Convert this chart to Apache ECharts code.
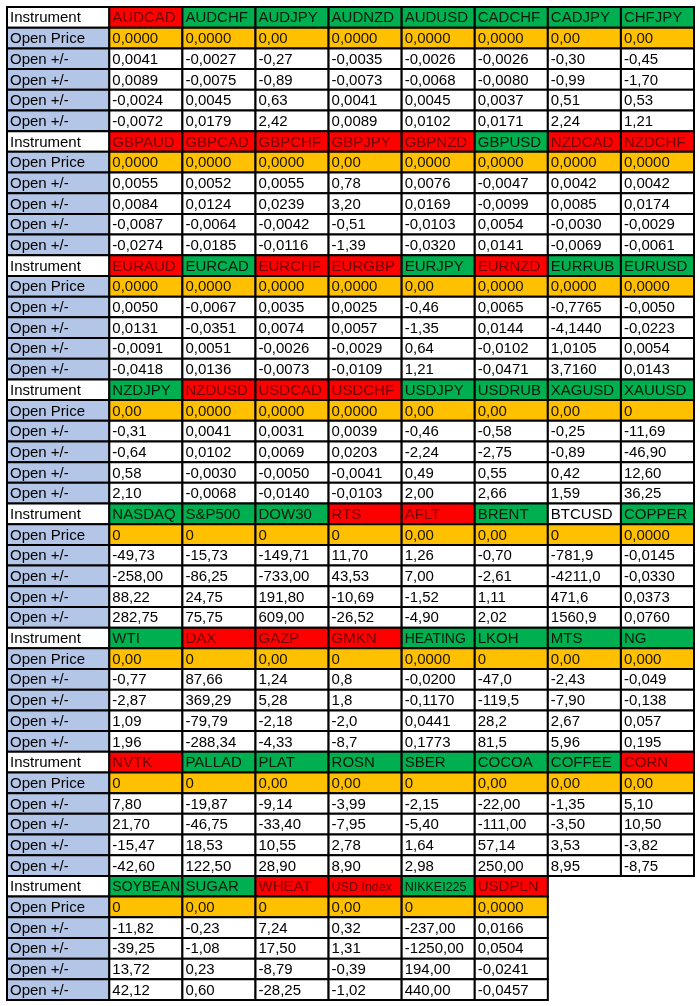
<!DOCTYPE html>
<html><head><meta charset="utf-8">
<script src="https://cdn.jsdelivr.net/npm/echarts@6/dist/echarts.min.js"></script>
<style>html,body{margin:0;padding:0;background:#fff}#c{width:700px;height:1006px}</style>
</head><body><div id="c"></div>
<script>
const rowLabels = ["Instrument","Open Price","Open +/-","Open +/-","Open +/-","Open +/-"];
const b1Names = ["AUDCAD","AUDCHF","AUDJPY","AUDNZD","AUDUSD","CADCHF","CADJPY","CHFJPY"];
const b1Colors = "RGGGGGGG";
const b1Open = ["0,0000","0,0000","0,00","0,0000","0,0000","0,0000","0,00","0,00"];
const b1Vals = [["0,0041","-0,0027","-0,27","-0,0035","-0,0026","-0,0026","-0,30","-0,45"],
 ["0,0089","-0,0075","-0,89","-0,0073","-0,0068","-0,0080","-0,99","-1,70"],
 ["-0,0024","0,0045","0,63","0,0041","0,0045","0,0037","0,51","0,53"],
 ["-0,0072","0,0179","2,42","0,0089","0,0102","0,0171","2,24","1,21"]];
const b2Names = ["GBPAUD","GBPCAD","GBPCHF","GBPJPY","GBPNZD","GBPUSD","NZDCAD","NZDCHF"];
const b2Colors = "RRRRRGRR";
const b2Open = ["0,0000","0,0000","0,0000","0,00","0,0000","0,0000","0,0000","0,0000"];
const b2Vals = [["0,0055","0,0052","0,0055","0,78","0,0076","-0,0047","0,0042","0,0042"],
 ["0,0084","0,0124","0,0239","3,20","0,0169","-0,0099","0,0085","0,0174"],
 ["-0,0087","-0,0064","-0,0042","-0,51","-0,0103","0,0054","-0,0030","-0,0029"],
 ["-0,0274","-0,0185","-0,0116","-1,39","-0,0320","0,0141","-0,0069","-0,0061"]];
const b3Names = ["EURAUD","EURCAD","EURCHF","EURGBP","EURJPY","EURNZD","EURRUB","EURUSD"];
const b3Colors = "RGRRGRGG";
const b3Open = ["0,0000","0,0000","0,0000","0,0000","0,00","0,0000","0,0000","0,0000"];
const b3Vals = [["0,0050","-0,0067","0,0035","0,0025","-0,46","0,0065","-0,7765","-0,0050"],
 ["0,0131","-0,0351","0,0074","0,0057","-1,35","0,0144","-4,1440","-0,0223"],
 ["-0,0091","0,0051","-0,0026","-0,0029","0,64","-0,0102","1,0105","0,0054"],
 ["-0,0418","0,0136","-0,0073","-0,0109","1,21","-0,0471","3,7160","0,0143"]];
const b4Names = ["NZDJPY","NZDUSD","USDCAD","USDCHF","USDJPY","USDRUB","XAGUSD","XAUUSD"];
const b4Colors = "GRRRGGGG";
const b4Open = ["0,00","0,0000","0,0000","0,0000","0,00","0,00","0,00","0"];
const b4Vals = [["-0,31","0,0041","0,0031","0,0039","-0,46","-0,58","-0,25","-11,69"],
 ["-0,64","0,0102","0,0069","0,0203","-2,24","-2,75","-0,89","-46,90"],
 ["0,58","-0,0030","-0,0050","-0,0041","0,49","0,55","0,42","12,60"],
 ["2,10","-0,0068","-0,0140","-0,0103","2,00","2,66","1,59","36,25"]];
const b5Names = ["NASDAQ","S&P500","DOW30","RTS","AFLT","BRENT","BTCUSD","COPPER"];
const b5Colors = "GGGRRGWG";
const b5Open = ["0","0","0","0","0,00","0,00","0","0,0000"];
const b5Vals = [["-49,73","-15,73","-149,71","11,70","1,26","-0,70","-781,9","-0,0145"],
 ["-258,00","-86,25","-733,00","43,53","7,00","-2,61","-4211,0","-0,0330"],
 ["88,22","24,75","191,80","-10,69","-1,52","1,11","471,6","0,0373"],
 ["282,75","75,75","609,00","-26,52","-4,90","2,02","1560,9","0,0760"]];
const b6Names = ["WTI","DAX","GAZP","GMKN","HEATING","LKOH","MTS","NG"];
const b6Colors = "GRRRGGGG";
const b6Open = ["0,00","0","0,00","0","0,0000","0","0,00","0,000"];
const b6Vals = [["-0,77","87,66","1,24","0,8","-0,0200","-47,0","-2,43","-0,049"],
 ["-2,87","369,29","5,28","1,8","-0,1170","-119,5","-7,90","-0,138"],
 ["1,09","-79,79","-2,18","-2,0","0,0441","28,2","2,67","0,057"],
 ["1,96","-288,34","-4,33","-8,7","0,1773","81,5","5,96","0,195"]];
const b7Names = ["NVTK","PALLAD","PLAT","ROSN","SBER","COCOA","COFFEE","CORN"];
const b7Colors = "RGGGGGGR";
const b7Open = ["0","0","0,00","0,00","0","0,00","0,00","0,00"];
const b7Vals = [["7,80","-19,87","-9,14","-3,99","-2,15","-22,00","-1,35","5,10"],
 ["21,70","-46,75","-33,40","-7,95","-5,40","-111,00","-3,50","10,50"],
 ["-15,47","18,53","10,55","2,78","1,64","57,14","3,53","-3,82"],
 ["-42,60","122,50","28,90","8,90","2,98","250,00","8,95","-8,75"]];
const b8Names = ["SOYBEAN","SUGAR","WHEAT","USD Index","NIKKEI225","USDPLN"];
const b8Colors = "GGRRGR";
const b8Open = ["0","0,00","0","0,00","0","0,0000"];
const b8Vals = [["-11,82","-0,23","7,24","0,32","-237,00","0,0166"],
 ["-39,25","-1,08","17,50","1,31","-1250,00","0,0504"],
 ["13,72","0,23","-8,79","-0,39","194,00","-0,0241"],
 ["42,12","0,60","-28,25","-1,02","440,00","-0,0457"]];

const blocks = [[b1Names,b1Colors,b1Open,b1Vals],[b2Names,b2Colors,b2Open,b2Vals],[b3Names,b3Colors,b3Open,b3Vals],
 [b4Names,b4Colors,b4Open,b4Vals],[b5Names,b5Colors,b5Open,b5Vals],[b6Names,b6Colors,b6Open,b6Vals],
 [b7Names,b7Colors,b7Open,b7Vals],[b8Names,b8Colors,b8Open,b8Vals]];

const FILL = {R:"#ff0000",G:"#00b050",W:"#ffffff",O:"#ffc000",B:"#b4c6e7"};
const TXT = {R:"#6e0000",G:"#0a1a0a",W:"#000000",O:"#1a1400",B:"#000000"};
const FIRSTW = 1.4;
// cells: [x0, x1, row, text, fillKey, isName]
const cells = [];
blocks.forEach((b, bi) => {
  const [names, colors, open, vals] = b;
  const r0 = bi * 6;
  rowLabels.forEach((l, i) => cells.push([0, FIRSTW, r0 + i, l, i === 0 ? "W" : "B", 0]));
  names.forEach((n, c) => {
    const x0 = FIRSTW + c, x1 = x0 + 1;
    cells.push([x0, x1, r0, n, colors[c], 1]);
    cells.push([x0, x1, r0 + 1, open[c], "O", 0]);
    vals.forEach((row, k) => cells.push([x0, x1, r0 + 2 + k, row[c], "W", 0]));
  });
});

const chart = echarts.init(document.getElementById('c'));
chart.setOption({
  animation: false,
  grid: {left: 7, right: 6, top: 7, bottom: 6},
  xAxis: {type: 'value', min: 0, max: FIRSTW + 8, show: false},
  yAxis: {type: 'value', min: 0, max: 48, inverse: true, show: false},
  series: [{
    type: 'custom',
    data: cells,
    encode: {x: [0, 1], y: 2},
    renderItem: function (params, api) {
      const p0 = api.coord([api.value(0), api.value(2)]);
      const p1 = api.coord([api.value(1), api.value(2) + 1]);
      const cell = cells[params.dataIndex];
      const txt = cell[3], key = cell[4], isName = cell[5];
      let fs = 15;
      if (isName && txt.length >= 9) fs = 12.5;
      else if (isName && txt.length >= 7) fs = 14;
      return {
        type: 'group',
        children: [
          {type: 'rect', shape: {x: p0[0], y: p0[1], width: p1[0] - p0[0], height: p1[1] - p0[1]},
           style: {fill: FILL[key], stroke: '#000', lineWidth: 2}},
          {type: 'text', x: p0[0] + 3, y: (p0[1] + p1[1]) / 2 + 1,
           style: {text: txt, fill: TXT[key], font: fs + 'px "Liberation Sans", Arial, sans-serif',
                   verticalAlign: 'middle', align: 'left'}}
        ]
      };
    }
  }]
});
</script></body></html>
